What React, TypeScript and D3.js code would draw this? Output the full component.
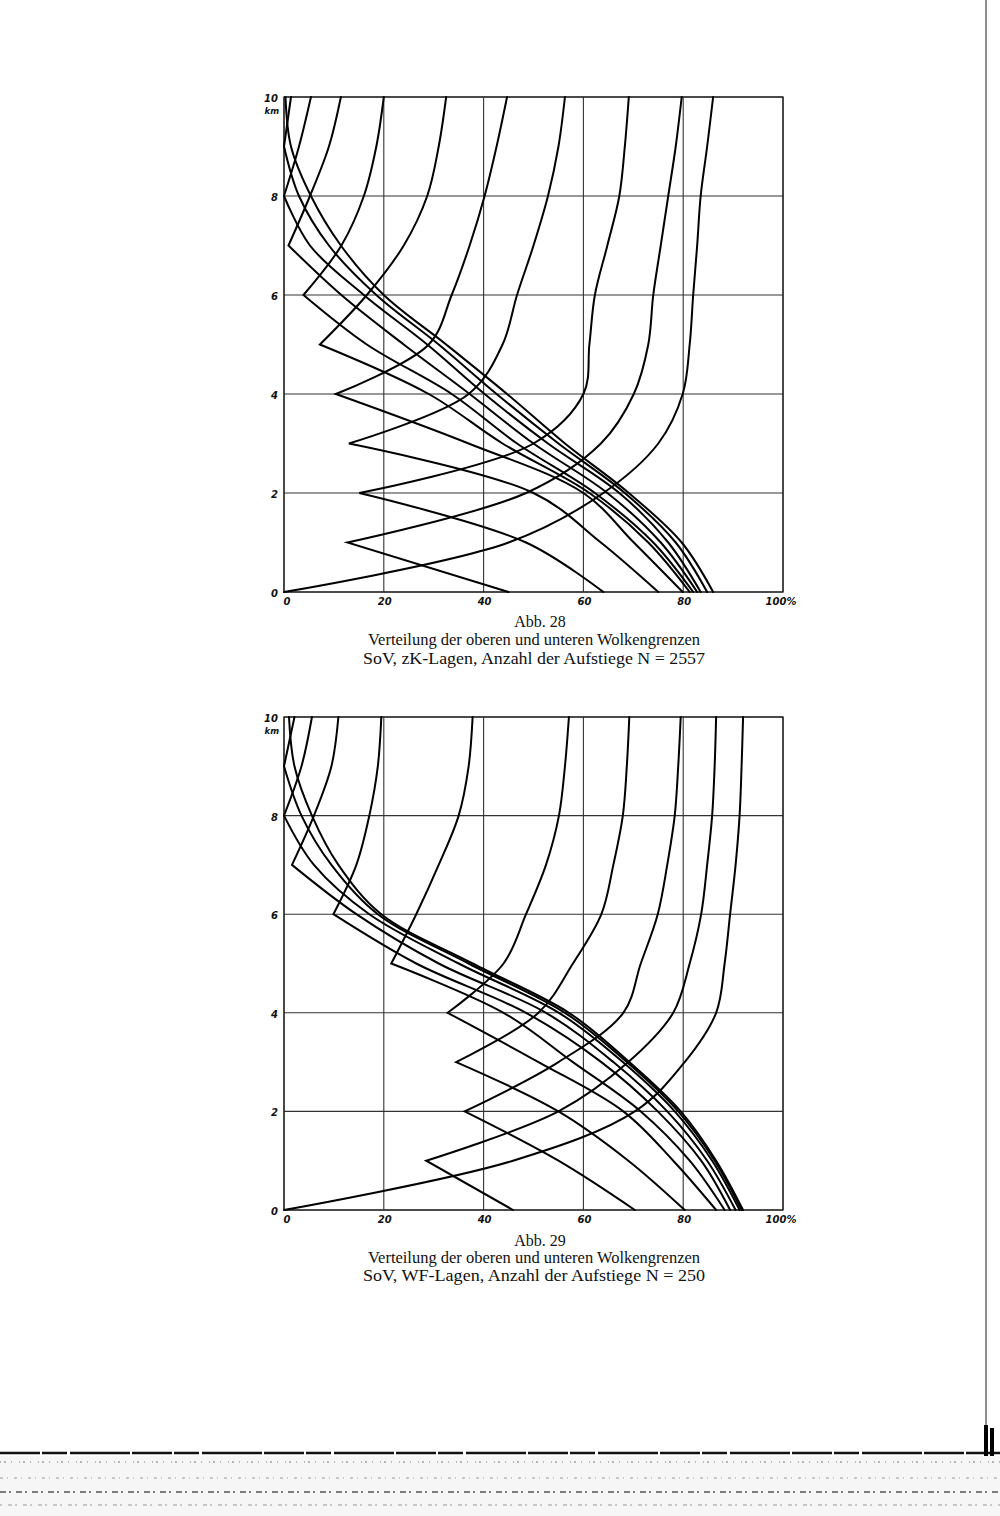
import React from 'react';
import * as d3 from 'd3';

// Heights (km) of the curve vertices / reading levels
const heightsKm = [0, 1, 2, 3, 4, 5, 6, 7, 8, 9, 10];
const xTicks = [0, 20, 40, 60, 80, 100];
const yTicks = [0, 2, 4, 6, 8, 10];

// Abb. 28 (zK-Lagen): row h = % values of curve h at heights h..10 km
// (upper branch of curve h; the column of the same table gives the lower branches)
const zkRow0 = [0, 45, 64, 75, 79.9, 81.3, 82, 82.8, 83.5, 84.8, 86];
const zkRow1 = [12.7, 48.5, 63.5, 70.1, 73, 74, 75.5, 77, 78.5, 79.7];
const zkRow2 = [15.1, 50, 60, 61.2, 62.3, 64.8, 67.2, 68.3, 69.1];
const zkRow3 = [13, 37, 43.8, 46.7, 50, 52.9, 55, 56.3];
const zkRow4 = [10.4, 29, 33.6, 37.2, 40.2, 42.6, 44.7];
const zkRow5 = [7.2, 16.6, 24, 28.7, 31, 32.5];
const zkRow6 = [3.9, 11.5, 16, 18.5, 20];
const zkRow7 = [0.9, 5.2, 9, 11.4];
const zkRow8 = [0, 3, 5.4];
const zkRow9 = [0, 1.4];
const zkRow10 = [0.3];

// Abb. 29 (WF-Lagen)
const wfRow0 = [0, 45.9, 70.3, 80.3, 86.6, 88.3, 89.4, 90.5, 91.3, 91.7, 92];
const wfRow1 = [28.5, 55, 69, 78, 81.3, 83.6, 84.8, 85.8, 86.3, 86.6];
const wfRow2 = [36.2, 55, 68, 71.5, 74.9, 76.8, 78.3, 79, 79.5];
const wfRow3 = [34.5, 51, 57.9, 63.6, 66, 67.9, 68.7, 69.2];
const wfRow4 = [32.8, 44, 48.5, 52.5, 55.1, 56.3, 57.1];
const wfRow5 = [21.5, 26.5, 31, 35, 37, 37.8];
const wfRow6 = [9.9, 14.5, 17.1, 18.8, 19.5];
const wfRow7 = [1.6, 6, 9.5, 10.9];
const wfRow8 = [0, 3.5, 5.6];
const wfRow9 = [0, 2.1];
const wfRow10 = [1];

const zkRows = [zkRow0, zkRow1, zkRow2, zkRow3, zkRow4, zkRow5, zkRow6, zkRow7, zkRow8, zkRow9, zkRow10];
const wfRows = [wfRow0, wfRow1, wfRow2, wfRow3, wfRow4, wfRow5, wfRow6, wfRow7, wfRow8, wfRow9, wfRow10];

const caption28 = ['Abb. 28', 'Verteilung der oberen und unteren Wolkengrenzen', 'SoV, zK-Lagen, Anzahl der Aufstiege N = 2557'];
const caption29 = ['Abb. 29', 'Verteilung der oberen und unteren Wolkengrenzen', 'SoV, WF-Lagen, Anzahl der Aufstiege N = 250'];

type Pt = { p: number; z: number };

function val(rows: number[][], i: number, j: number) {
  const a = Math.min(i, j);
  const b = Math.max(i, j);
  return rows[a][b - a];
}

function Chart({ rows, top, bottom, captions, capY }: { rows: number[][]; top: number; bottom: number; captions: string[]; capY: number[] }) {
  const x = d3.scaleLinear().domain([0, 100]).range([284, 783]);
  const y = d3.scaleLinear().domain([0, 10]).range([bottom, top]);
  const line = d3
    .line<Pt>()
    .x((d) => x(d.p))
    .y((d) => y(d.z))
    .curve(d3.curveCatmullRom.alpha(0.5));

  const paths: string[] = [];
  heightsKm.forEach((h) => {
    const upper: Pt[] = heightsKm.filter((z) => z >= h).map((z) => ({ p: val(rows, h, z), z })).sort((a, b) => b.z - a.z);
    const lower: Pt[] = heightsKm.filter((z) => z <= h).map((z) => ({ p: val(rows, z, h), z })).sort((a, b) => b.z - a.z);
    let d = '';
    if (upper.length > 1) d += line(upper) || '';
    if (lower.length > 1) {
      const ld = line(lower) || '';
      d += d ? ld.replace(/^M/, 'L') : ld;
    }
    paths.push(d);
  });

  const labelFont = { fontFamily: 'DejaVu Sans', fontStyle: 'italic' as const, fontWeight: 600, fontSize: 10, fill: '#111' };

  return (
    <g>
      {xTicks.map((t) => (
        <line key={'gx' + t} x1={x(t)} x2={x(t)} y1={y(0)} y2={y(10)} stroke="#333" strokeWidth={1.1} />
      ))}
      {yTicks.map((t) => (
        <line key={'gy' + t} x1={x(0)} x2={x(100)} y1={y(t)} y2={y(t)} stroke="#333" strokeWidth={1.1} />
      ))}
      <rect x={x(0)} y={y(10)} width={x(100) - x(0)} height={y(0) - y(10)} fill="none" stroke="#222" strokeWidth={1.3} />
      {paths.map((d, i) => (
        <path key={'c' + i} d={d} fill="none" stroke="#000" strokeWidth={2} strokeLinejoin="miter" strokeLinecap="round" />
      ))}
      {yTicks.map((t) => (
        <text key={'ly' + t} x={278} y={t === 10 ? y(t) + 5 : y(t) + 5} textAnchor="end" {...labelFont}>
          {t}
        </text>
      ))}
      <text x={279} y={y(10) + 17} textAnchor="end" {...labelFont} fontSize={8.5}>
        km
      </text>
      {xTicks.map((t) => (
        <text key={'lx' + t} x={t === 0 ? x(t) + 3 : t === 100 ? x(t) - 2 : x(t) + 1} y={y(0) + 13} textAnchor="middle" {...labelFont}>
          {t === 100 ? '100%' : t}
        </text>
      ))}
      {captions.map((c, i) => (
        <text
          key={'cap' + i}
          x={i === 0 ? 540 : 534}
          y={capY[i]}
          textAnchor="middle"
          fontFamily="Liberation Serif"
          fontSize={16}
          fill="#111"
          {...(i > 0 ? { textLength: i === 1 ? 332 : 342, lengthAdjust: 'spacingAndGlyphs' } : {})}
        >
          {c}
        </text>
      ))}
    </g>
  );
}

export default function App() {
  return (
    <svg width={1000} height={1516} style={{ position: 'absolute', left: 0, top: 0, background: '#fff' }}>
      <rect x={0} y={0} width={1000} height={1516} fill="#fff" />
      <Chart rows={zkRows} top={97} bottom={592} captions={caption28} capY={[627, 645, 664]} />
      <Chart rows={wfRows} top={717} bottom={1210} captions={caption29} capY={[1246, 1263, 1281]} />
      <line x1={986} x2={986} y1={0} y2={1440} stroke="#444" strokeWidth={1.2} />
      <line x1={0} x2={1000} y1={1453} y2={1453} stroke="#111" strokeWidth={2.5} strokeDasharray="40 2 25 3 60 2" />
      <path d="M986,1425 L986,1475 L1000,1475 M992,1428 L992,1470" fill="none" stroke="#000" strokeWidth={4} />
      <rect x={0} y={1456} width={1000} height={60} fill="#f6f6f6" />
      <line x1={0} x2={1000} y1={1462} y2={1462} stroke="#777" strokeWidth={1} strokeDasharray="1 3 2 5 1 7" />
      <line x1={0} x2={1000} y1={1478} y2={1478} stroke="#999" strokeWidth={1} strokeDasharray="3 4 1 6" />
      <line x1={0} x2={1000} y1={1492} y2={1492} stroke="#555" strokeWidth={1.5} strokeDasharray="6 3 2 5" />
      <line x1={0} x2={1000} y1={1505} y2={1505} stroke="#999" strokeWidth={1} strokeDasharray="2 6 4 3" />
    </svg>
  );
}
